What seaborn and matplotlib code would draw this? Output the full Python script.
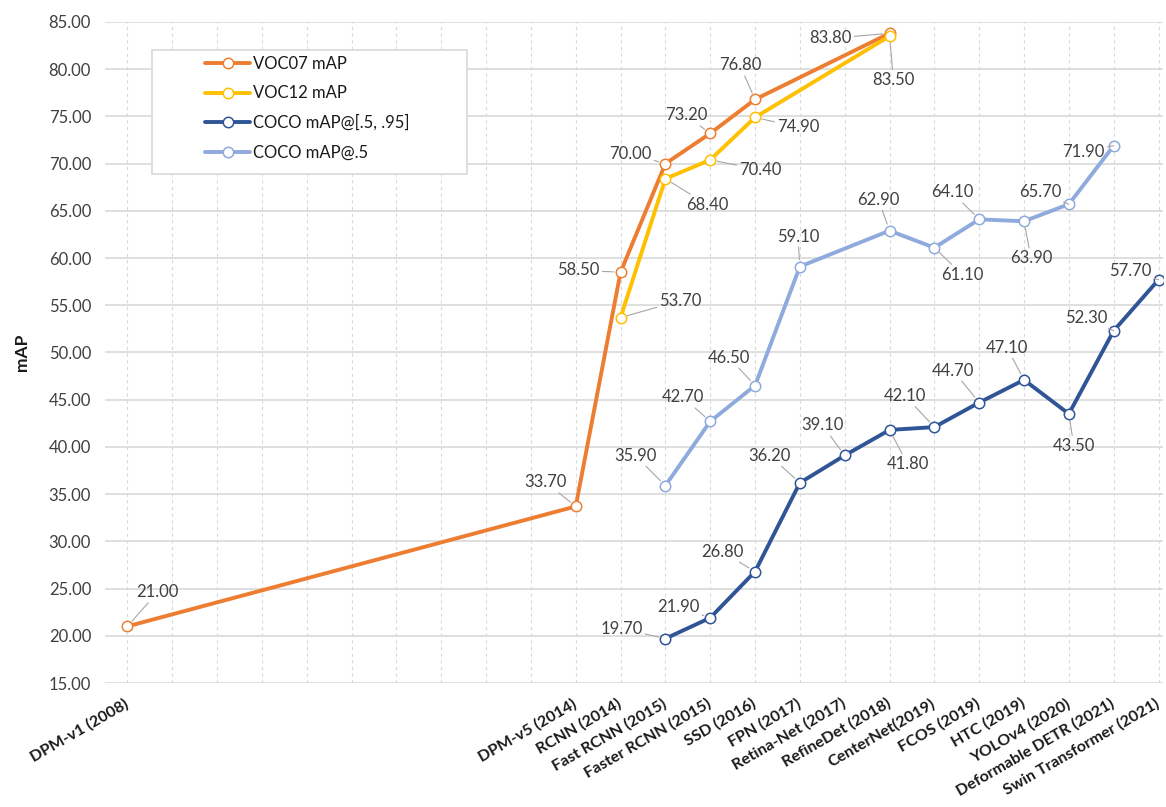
import numpy as np
import pandas as pd
import seaborn as sns
import matplotlib.pyplot as plt
from matplotlib.patches import Rectangle

na = np.nan

categories = [
    "DPM-v1 (2008)", "", "", "", "", "", "", "", "", "",
    "DPM-v5 (2014)", "RCNN (2014)", "Fast RCNN (2015)", "Faster RCNN (2015)",
    "SSD (2016)", "FPN (2017)", "Retina-Net (2017)", "RefineDet (2018)",
    "CenterNet(2019)", "FCOS (2019)", "HTC (2019)", "YOLOv4 (2020)",
    "Deformable DETR (2021)", "Swin Transformer (2021)",
]

voc07 = [21.0, na, na, na, na, na, na, na, na, na,
         33.7, 58.5, 70.0, 73.2, 76.8, na, na, 83.8,
         na, na, na, na, na, na]
voc12 = [na, na, na, na, na, na, na, na, na, na,
         na, 53.7, 68.4, 70.4, 74.9, na, na, 83.5,
         na, na, na, na, na, na]
coco = [na, na, na, na, na, na, na, na, na, na,
        na, na, 19.7, 21.9, 26.8, 36.2, 39.1, 41.8,
        42.1, 44.7, 47.1, 43.5, 52.3, 57.7]
coco50 = [na, na, na, na, na, na, na, na, na, na,
          na, na, 35.9, 42.7, 46.5, 59.1, na, 62.9,
          61.1, 64.1, 63.9, 65.7, 71.9, na]

series_names = ["VOC07 mAP", "VOC12 mAP", "COCO mAP@[.5, .95]", "COCO mAP@.5"]
series_values = [voc07, voc12, coco, coco50]
colors = ["#ED7D31", "#FFC000", "#2F5597", "#8FAADC"]

# label offsets (pixels, x right / y up) for each drawn point, in order
label_offsets = {
    "VOC07 mAP": [(30, 34), (-30, 24), (-42, 2), (-35, 10), (-24, 18), (-15, 34), (-59, -5)],
    "VOC12 mAP": [(60, 17), (42, -26), (50, -10), (43, -10), (4, -44)],
    "COCO mAP@[.5, .95]": [(-44, 10), (-32, 11), (-33, 20), (-30, 27), (-22, 30), (18, -34),
                           (-29, 31), (-26, 32), (-17, 32), (5, -32), (-27, 13), (-28, 9)],
    "COCO mAP@.5": [(-30, 30), (-27, 24), (-26, 28), (-2, 30), (-11, 31), (28, -27),
                    (-27, 27), (7, -37), (-29, 12), (-30, -6)],
}

rows = []
for name, vals in zip(series_names, series_values):
    for i, v in enumerate(vals):
        rows.append({"x": i, "mAP": v, "series": name})
df = pd.DataFrame(rows).dropna()

sns.set_style("white")
plt.rcParams["font.family"] = ["Lato", "DejaVu Sans"]

W, H = 1166, 807
fig = plt.figure(figsize=(W / 100, H / 100), dpi=100)
ax = fig.add_axes([105 / W, 1 - 683 / H, (1163 - 105) / W, (683 - 22) / H])

for name, color in zip(series_names, colors):
    sub = df[df["series"] == name]
    sns.lineplot(data=sub, x="x", y="mAP", ax=ax, color=color, lw=2.8,
                 marker="o", markersize=7.5, mfc="white", mec=color, mew=1.1,
                 label=name, legend=False)
    for (i, v), (dx, dy) in zip(zip(sub["x"], sub["mAP"]), label_offsets[name]):
        ax.annotate(f"{v:.2f}", xy=(i, v), xytext=(dx, dy), textcoords="offset pixels",
                    ha="center", va="center", fontsize=12, color="#404040", zorder=4,
                    bbox=dict(boxstyle="square,pad=0.15", fc="none", ec="none"),
                    arrowprops=dict(arrowstyle="-", color="#a6a6a6", lw=0.8,
                                    shrinkA=0, shrinkB=5))

ax.set_xlim(-0.5, 23.1)
ax.set_ylim(15, 85)
ax.set_yticks(np.arange(15, 86, 5))
ax.set_yticklabels([f"{t:.2f}" for t in np.arange(15, 86, 5)], fontsize=12, color="#404040")
ax.set_xticks(range(len(categories)))
ax.set_xticklabels(categories, rotation=30, ha="right", va="center",
                   rotation_mode="anchor", fontsize=11.5, fontweight="bold", color="#1a1a1a")
ax.tick_params(axis="x", length=10, color="#d9d9d9", width=0.8, pad=4)
ax.tick_params(axis="y", length=0, pad=10)

ax.set_axisbelow(True)
ax.yaxis.grid(True, color="#d9d9d9", lw=1.2)
ax.xaxis.grid(True, color="#d9d9d9", lw=0.8, ls=(0, (3, 3)))
for s in ax.spines.values():
    s.set_visible(False)

ax.set_xlabel("")
ax.set_ylabel("mAP", fontsize=12.5, fontweight="bold", color="#1a1a1a")
ax.yaxis.set_label_coords((30 - 105) / 1058, 0.5)

# legend box
ax.add_patch(Rectangle((152 / W, 1 - 174 / H), 315 / W, 124 / H, transform=fig.transFigure,
                       fc="white", ec="#d9d9d9", lw=1.2, zorder=5, clip_on=False))
leg = ax.legend(loc="upper left", bbox_to_anchor=(205 / W, 1 - 56 / H),
                bbox_transform=fig.transFigure, frameon=False, fontsize=12,
                borderpad=0, borderaxespad=0, labelspacing=0.8,
                handlelength=2.7, handletextpad=0.2, labelcolor="#1a1a1a")
leg.set_zorder(6)

fig.savefig("out.png", dpi=100)
